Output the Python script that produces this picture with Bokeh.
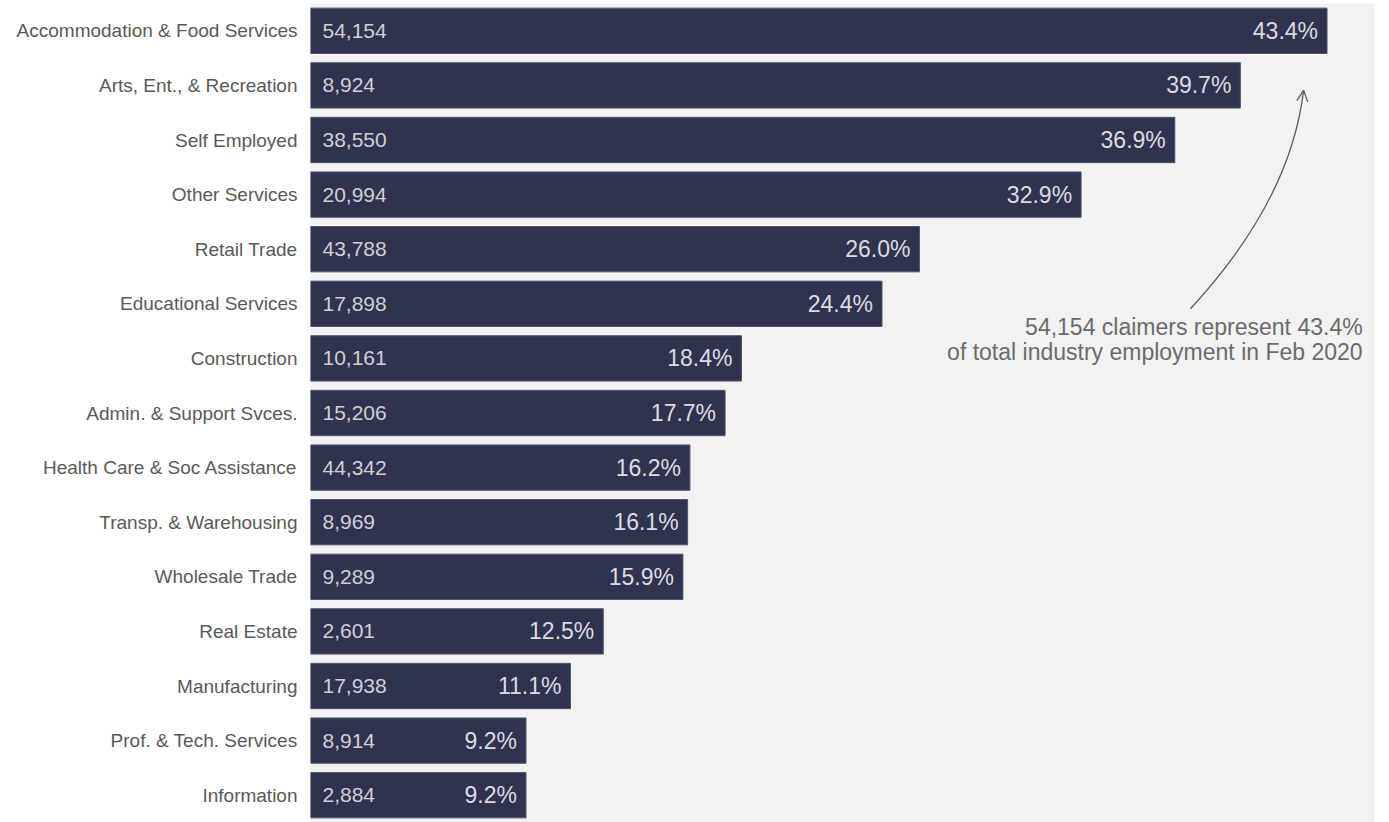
from bokeh.plotting import figure
from bokeh.models import Range1d, FixedTicker, Arrow, OpenHead, ColumnDataSource
from bokeh.core.properties import value
from bokeh.embed import file_html
from bokeh.resources import INLINE

categories = ["Accommodation & Food Services", "Arts, Ent., & Recreation", "Self Employed",
              "Other Services", "Retail Trade", "Educational Services", "Construction",
              "Admin. & Support Svces.", "Health Care & Soc Assistance", "Transp. & Warehousing",
              "Wholesale Trade", "Real Estate", "Manufacturing", "Prof. & Tech. Services",
              "Information"]
claimers = [54154, 8924, 38550, 20994, 43788, 17898, 10161, 15206, 44342, 8969,
            9289, 2601, 17938, 8914, 2884]
pct = [43.4, 39.7, 36.9, 32.9, 26.0, 24.4, 18.4, 17.7, 16.2, 16.1, 15.9, 12.5, 11.1, 9.2, 9.2]

n = len(categories)
ys = [n - 1 - i for i in range(n)]

src = ColumnDataSource(dict(
    y=ys, cat=categories, pct=pct, zero=[0] * n,
    num=[f"{c:,}" for c in claimers],
    pl=[f"{v:.1f}%" for v in pct],
))

FONT = "Liberation Sans"

p = figure(width=1375, height=822, output_backend="svg", toolbar_location=None,
           x_range=Range1d(0, 45.47), y_range=Range1d(-0.5, n - 0.5),
           min_border_left=310, min_border_right=0, min_border_top=3, min_border_bottom=0)
p.background_fill_color = "#f2f2f2"
p.border_fill_color = "white"
p.outline_line_color = None
p.grid.visible = False
p.xaxis.visible = False

p.hbar(y="y", left=0, right="pct", height=0.83, source=src,
       fill_color="#2f3350", line_color="#50546e", line_width=1)

p.text(x="zero", y="y", text="num", source=src, x_offset=12,
       text_align="left", text_baseline="middle", text_color="#cfcfd4",
       text_font=value(FONT), text_font_size="21px")
p.text(x="pct", y="y", text="pl", source=src, x_offset=-9,
       text_align="right", text_baseline="middle", text_color="#dcdce0",
       text_font=value(FONT), text_font_size="23px")

ax = p.yaxis[0]
ax.ticker = FixedTicker(ticks=ys)
ax.major_label_overrides = {y: c for y, c in zip(ys, categories)}
ax.axis_line_color = None
ax.major_tick_line_color = None
ax.minor_tick_line_color = None
ax.major_tick_out = 0
ax.major_label_standoff = 13
ax.major_label_text_font = FONT
ax.major_label_text_font_size = "19px"
ax.major_label_text_color = "#595959"

# annotation
x0, y0 = 37.57, 8.91
cx, cy = 41.84, 10.89
x1, y1 = 42.40, 12.91
p.quadratic(x0=[x0], y0=[y0], x1=[x1], y1=[y1], cx=[cx], cy=[cy],
            line_color="#5a5a5a", line_width=1.3)
dx, dy = x1 - cx, y1 - cy
p.add_layout(Arrow(end=OpenHead(size=11, line_color="#5a5a5a", line_width=1.3),
                   x_start=x1 - dx * 0.01, y_start=y1 - dy * 0.01, x_end=x1, y_end=y1,
                   line_color="#5a5a5a", line_width=1.3))

p.text(x=[44.92, 44.92], y=[8.58, 8.12],
       text=["54,154 claimers represent 43.4%", "of total industry employment in Feb 2020"],
       text_align="right", text_baseline="middle", text_color="#6b6b6b",
       text_font=value(FONT), text_font_size="23px")

open("out.html", "w").write(file_html(p, INLINE))
